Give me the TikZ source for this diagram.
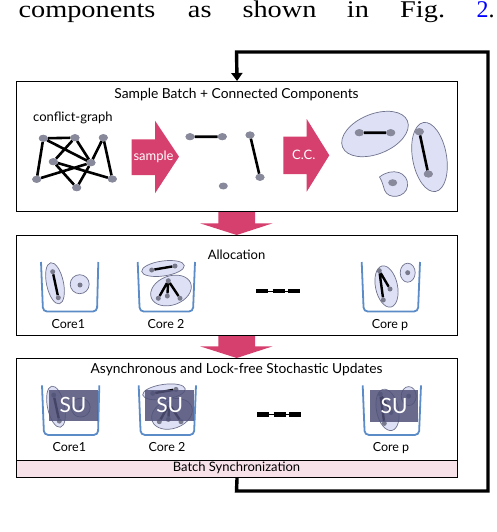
\documentclass[tikz,border=0pt]{standalone}
\usepackage{fontspec}
\setmainfont{Liberation Serif}
\newfontfamily\gill{Lato}
\usetikzlibrary{arrows.meta,shapes.geometric,calc}
\definecolor{pinkA}{RGB}{214,64,110}
\definecolor{blobF}{RGB}{222,225,246}
\definecolor{blobD}{RGB}{110,114,140}
\definecolor{vgray}{RGB}{136,138,156}
\definecolor{vgrayB}{RGB}{120,122,140}
\definecolor{cupC}{RGB}{92,140,200}
\definecolor{suC}{RGB}{80,81,120}
\definecolor{syncC}{RGB}{248,226,234}
\definecolor{linkblue}{RGB}{0,0,255}
\newcommand\cupset{%
  % cups
  \draw[cup] (41,262) -- (43,311.5) -- (97,311.5) -- (98.3,262);
  \draw[cup] (137.7,262) -- (139.7,311.5) -- (193,311.5) -- (195,262);
  \draw[cup] (361.7,262) -- (363.7,311.5) -- (418,311.5) -- (420,262);
  % core 1
  \node[blob,minimum width=17pt,minimum height=42pt,rotate=12] (c1a) at (55,283.3) {};
  \node[svtx] (c1v1) at (52.7,271.7) {};
  \node[svtx] (c1v2) at (58.3,297.7) {};
  \draw[sedge] (c1v1) -- (c1v2);
  \node[blob,minimum width=19pt,minimum height=19pt] (c1b) at (79.7,284.2) {};
  \node[svtx] (c1v3) at (80,285) {};
  % core 2
  \node[blob,minimum width=43pt,minimum height=15pt,rotate=8] (c2a) at (163,268.5) {};
  \node[svtx] (c2v1) at (151.7,270) {};
  \node[svtx] (c2v2) at (175,266) {};
  \draw[sedge] (c2v1) -- (c2v2);
  \node[blob,minimum width=42pt,minimum height=29pt,rotate=20] (c2b) at (171,290.5) {};
  \node[svtx] (c2v3) at (168.3,280.7) {};
  \node[svtx] (c2v4) at (158.3,298.3) {};
  \node[svtx] (c2v5) at (167.3,296) {};
  \node[svtx] (c2v6) at (180,298.3) {};
  \draw[sedge] (c2v3) -- (c2v4) (c2v3) -- (c2v5) (c2v3) -- (c2v6);
  % core p
  \node[blob,minimum width=22pt,minimum height=42pt,rotate=12] (cpa) at (386.5,286.5) {};
  \node[svtx] (cpv1) at (379.3,270.7) {};
  \node[svtx] (cpv2) at (390,289) {};
  \node[svtx] (cpv3) at (383.3,300) {};
  \draw[sedge] (cpv1) -- (cpv2) (cpv1) -- (cpv3);
  \node[blob,minimum width=15pt,minimum height=19pt] (cpb) at (407.7,272.7) {};
  \node[svtx] (cpv4) at (407.7,272.7) {};
  % dashes
  \draw[line width=0.8pt] (256,291) -- (300,291);
  \draw[line width=4.5pt] (256,291) -- (268.3,291) (272.7,291) -- (285,291) (288.3,291) -- (300,291);
  % labels
  \node[lbl,anchor=base] (k1) at (68.3,328.3) {Core1};
  \node[lbl,anchor=base] (k2) at (166,328.3) {Core 2};
  \node[lbl,anchor=base] (kp) at (390,328.3) {Core p};
}
\begin{document}
\begin{tikzpicture}[x=1pt,y=-1pt,
  panel/.style={draw=black,line width=1.1pt,fill=white,inner sep=0pt},
  vtx/.style={ellipse,fill=vgray,minimum width=9pt,minimum height=7pt,inner sep=0pt},
  svtx/.style={circle,fill=vgrayB,minimum size=5pt,inner sep=0pt},
  gedge/.style={line width=2.6pt,black},
  sedge/.style={line width=2.4pt,black},
  blob/.style={ellipse,fill=blobF,draw=blobD,line width=0.7pt,inner sep=0pt},
  cup/.style={draw=cupC,line width=1.8pt,rounded corners=4pt},
  lbl/.style={font=\gill\fontsize{12.5}{14}\selectfont,inner sep=0pt},
  ttl/.style={font=\gill\fontsize{13}{15}\selectfont,inner sep=0pt},
  bigttl/.style={font=\gill\fontsize{13.8}{15}\selectfont,inner sep=0pt},
  blockarrow/.style={fill=pinkA},
  fb/.style={line width=3.4pt,black},
  word/.style={font=\fontsize{24}{28}\selectfont,inner sep=0pt,anchor=base west,xscale=1.18},
  su/.style={fill=suC,fill opacity=0.85,text opacity=1,text=white,inner sep=0pt,
    font=\gill\fontsize{21}{22}\selectfont,anchor=north west},
]
\useasboundingbox (0,0) rectangle (496,532);
% running text
\node[word] (w1) at (18.3,18) {components};
\node[word] (w2) at (187.7,18) {as};
\node[word] (w3) at (242.3,18) {shown};
\node[word] (w4) at (346.7,18) {in};
\node[word] (w5) at (400,18) {Fig.};
\node[word,xscale=1/1.18] (w6) at (476.5,18) {\textcolor{linkblue}{2}.};
% down arrows between panels
\fill[blockarrow] (218.3,211) -- (255,211) -- (255,223.3) -- (272.7,223.3) -- (236.7,235) -- (200,223.3) -- (218.3,223.3) -- cycle;
\fill[blockarrow] (218.3,335) -- (255,335) -- (255,346.3) -- (272.7,346.3) -- (236.7,358) -- (200,346.3) -- (218.3,346.3) -- cycle;
% panels
\node[panel,minimum width=441pt,minimum height=130pt,anchor=north west] (b1) at (16,81) {};
\node[panel,minimum width=441pt,minimum height=100pt,anchor=north west] (b2) at (16,235) {};
\node[panel,minimum width=441pt,minimum height=118pt,anchor=north west] (b3) at (16,358) {};
\node[panel,fill=syncC,minimum width=441pt,minimum height=17pt,anchor=north west] (sync) at (16,459.5) {};
\node[ttl] (synct) at (236.5,468) {Batch Synchronization};
% titles
\node[bigttl] (t1) at (236.5,95) {Sample Batch + Connected Components};
\node[ttl] (t2) at (236.5,255) {Allocation};
\node[bigttl] (t3) at (236.5,370) {Asynchronous and Lock-free Stochastic Updates};
% conflict graph
\node[ttl,anchor=west] (cg) at (33,118) {conflict-graph};
\node[vtx] (n1) at (43.3,138.3) {};
\node[vtx] (n2) at (75,137.7) {};
\node[vtx] (n3) at (103.3,137.7) {};
\node[vtx] (n4) at (53.3,161.7) {};
\node[vtx] (n5) at (91,162.7) {};
\node[vtx] (n6) at (36.7,179.3) {};
\node[vtx] (n7) at (76.7,187.7) {};
\node[vtx] (n8) at (112.3,179) {};
\draw[gedge] (n1) -- (n2) (n1) -- (n5) (n2) -- (n4) (n2) -- (n5) (n1) -- (n6)
  (n3) -- (n5) (n3) -- (n8) (n4) -- (n7) (n4) -- (n8) (n6) -- (n5) (n7) -- (n5);
\foreach \v in {n1,n2,n3,n4,n5,n6,n7,n8} \fill[vgray] (\v) ellipse [x radius=4.5, y radius=3.5];
% sample arrow
\fill[blockarrow] (131.7,139.3) -- (155,139.3) -- (155,120.7) -- (179,156.7) -- (155,193.3) -- (155,175) -- (131.7,175) -- cycle;
\node[ttl,text=white] (ts) at (153.5,156.5) {sample};
% sampled graph
\node[vtx] (m1) at (190,136.7) {};
\node[vtx] (m2) at (222.3,136.7) {};
\node[vtx] (m3) at (223.3,186) {};
\node[vtx] (m4) at (250,135) {};
\node[vtx] (m5) at (260,177.3) {};
\draw[gedge] (m1) -- (m2) (m4) -- (m5);
\foreach \v in {m1,m2,m4,m5} \fill[vgray] (\v) ellipse [x radius=4.5, y radius=3.5];
% C.C. arrow
\fill[blockarrow] (283.3,136.7) -- (306.7,136.7) -- (306.7,119) -- (329.3,155.3) -- (306.7,191.7) -- (306.7,174) -- (283.3,174) -- cycle;
\node[ttl,text=white] (tc) at (303.7,155.3) {C.C.};
% connected components
\node[blob,minimum width=70pt,minimum height=40pt,rotate=22] (bA) at (375,134) {};
\node[blob,minimum width=34pt,minimum height=70pt,rotate=10] (bB) at (429.5,157) {};
\draw[blob,fill=blobF] (379.5,177) .. controls (392,167) and (409,172) .. (407.5,186)
  .. controls (406,198) and (388,200) .. (384.5,190) .. controls (383,185) and (382,181) .. (379.5,177) -- cycle;
\node[vtx] (p1) at (359.3,132.7) {};
\node[vtx] (p2) at (390.7,132.7) {};
\node[vtx] (p3) at (419.3,131.7) {};
\node[vtx] (p4) at (428.3,174) {};
\node[vtx] (p5) at (392.7,182.7) {};
\draw[gedge] (p1) -- (p2) (p3) -- (p4);
\foreach \v in {p1,p2,p3,p4} \fill[vgray] (\v) ellipse [x radius=4.5, y radius=3.5];
% allocation
\begin{scope}[name prefix=a-]
\cupset
\end{scope}
% updates
\begin{scope}[shift={(1,123.4)},name prefix=u-]
\cupset
\end{scope}
\node[su,minimum width=49pt,minimum height=31.4pt] (su1) at (48.3,389.3) {SU};
\node[su,minimum width=49pt,minimum height=31.4pt] (su2) at (145,389.3) {SU};
\node[su,minimum width=47.7pt,minimum height=32.4pt] (su3) at (370,389.3) {SU};
% feedback loop
\coordinate (fbA) at (236.5,491);
\coordinate (fbB) at (488,491);
\coordinate (fbC) at (488,52);
\coordinate (fbD) at (236.5,52);
\draw[fb,-{Triangle[width=11pt,length=8pt]}] (sync.south) -- (fbA) -- (fbB) -- (fbC) -- (fbD) -- (b1.north);
\end{tikzpicture}
\end{document}
